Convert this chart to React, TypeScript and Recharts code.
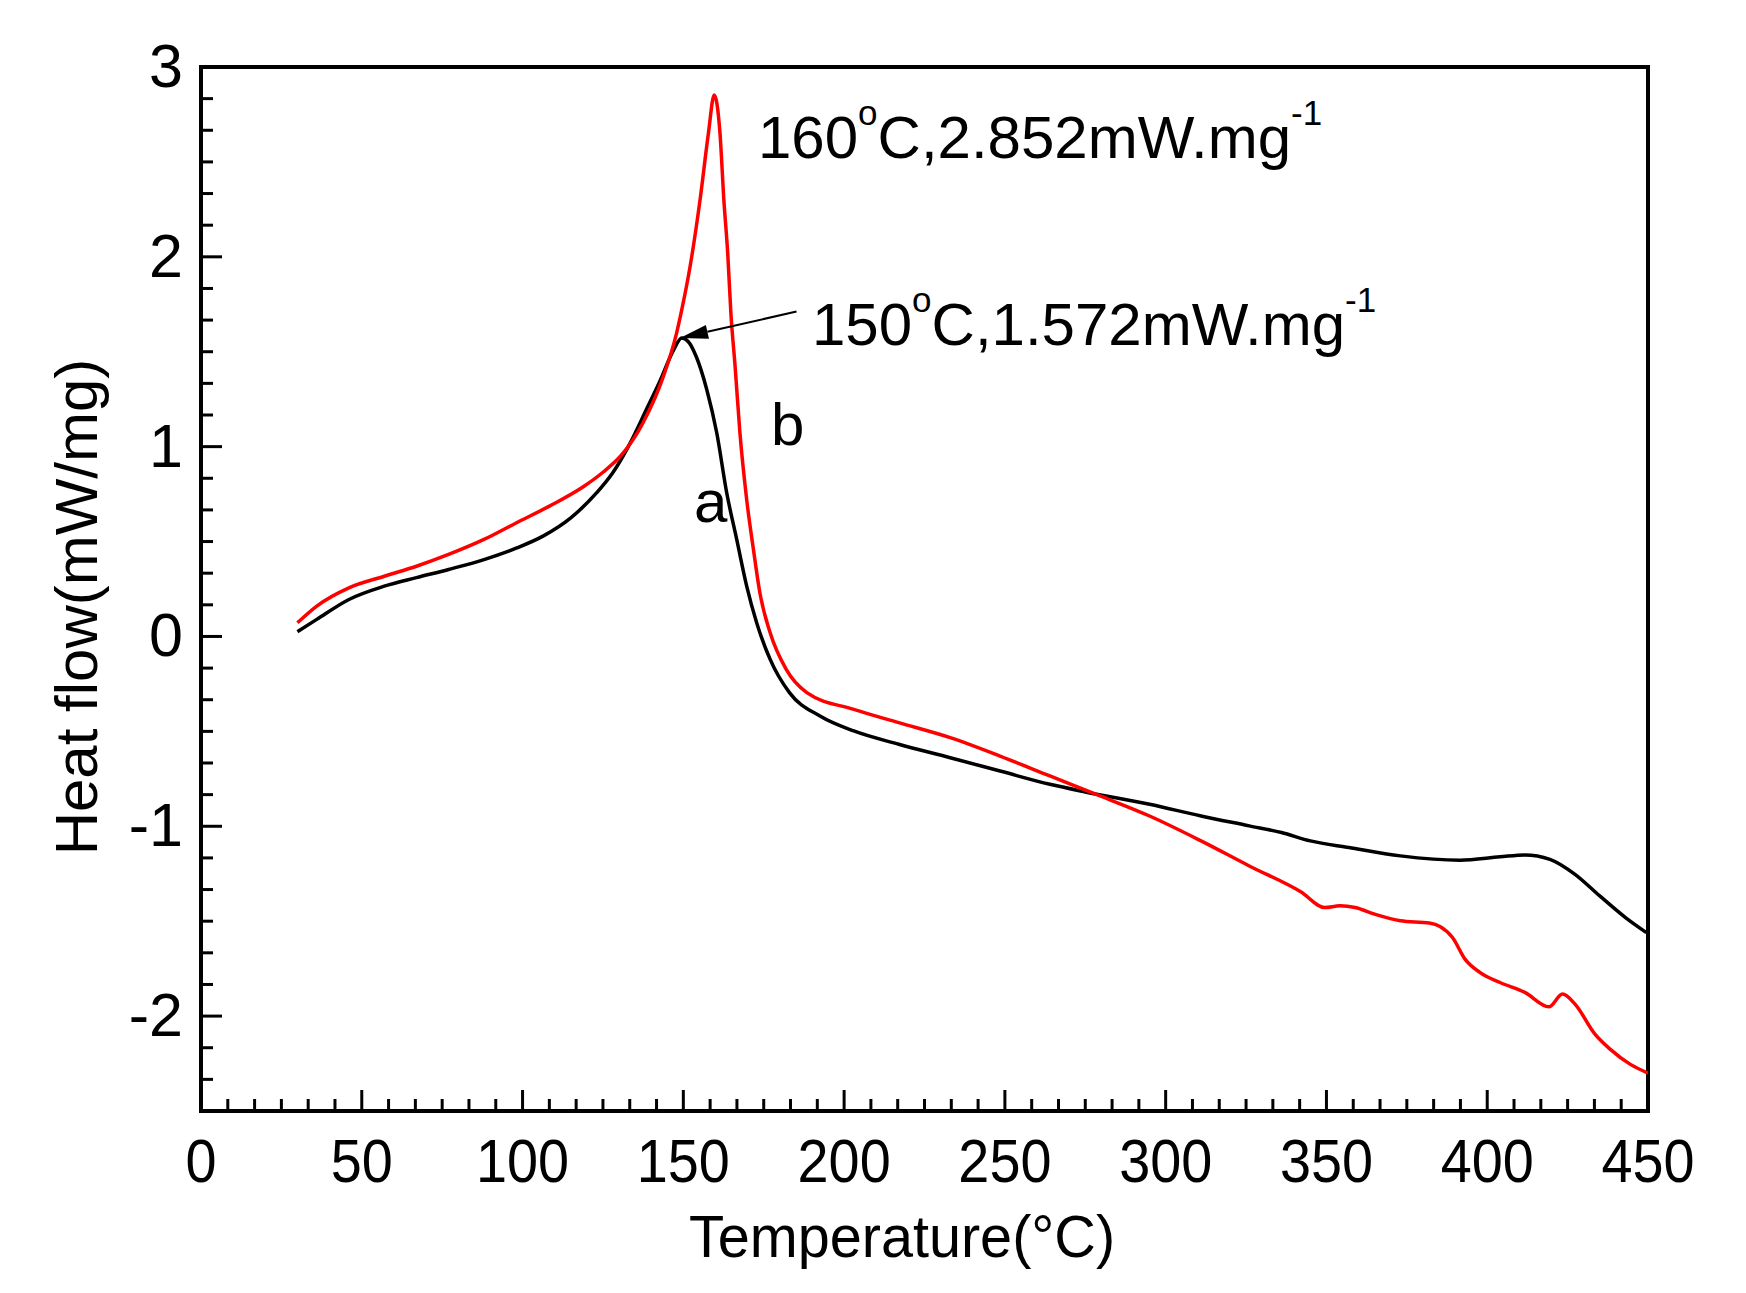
import React from "react";
import {
  LineChart,
  Line,
  XAxis,
  YAxis,
  ReferenceArea,
  ReferenceLine,
  Customized,
} from "recharts";

const FONT = "'Liberation Sans', Arial, Helvetica, sans-serif";

// curve a (black)
const aTemp = [
  30, 36, 46, 57, 67, 77, 88, 98, 106.5, 115, 123, 128, 133.5, 138.5, 142.7,
  147, 149.5, 151.5, 154, 157.3, 160.4, 163.5, 166.6, 169.7, 172.8, 177, 183,
  192.5, 203, 217, 233, 248.5, 264, 275, 295, 311, 326, 336, 345, 357, 373,
  391.5, 404, 411.7, 419.5, 427.3, 435, 443, 449.5,
];
const aHeat = [
  0.025, 0.09, 0.195, 0.265, 0.31, 0.353, 0.405, 0.465, 0.53, 0.625, 0.756,
  0.861, 1.02, 1.195, 1.345, 1.51, 1.572, 1.554, 1.475, 1.3, 1.072, 0.756,
  0.511, 0.265, 0.072, -0.121, -0.296, -0.419, -0.498, -0.568, -0.639, -0.709,
  -0.779, -0.819, -0.884, -0.946, -0.998, -1.033, -1.077, -1.112, -1.156,
  -1.179, -1.161, -1.151, -1.174, -1.253, -1.367, -1.481, -1.56,
];

// curve b (red)
const bTemp = [
  30, 36, 46, 57, 67, 77, 88, 98, 108.5, 119, 125, 131, 137.6, 143.8, 147.9,
  149.5, 152.1, 155.2, 157.8, 159.6, 161.4, 162.6, 163.8, 164.8, 166.1, 167.6,
  169.7, 171.8, 173.8, 177, 182, 188.4, 203, 217, 233, 248.5, 264, 279.6, 295,
  311, 326, 342, 349.5, 354.2, 358.9, 365, 373, 382, 385.3, 389.2, 393.1,
  397.7, 404, 411.7, 419.2, 423.4, 427.3, 433.5, 438.2, 444.4, 450,
];
const bHeat = [
  0.072, 0.16, 0.256, 0.317, 0.37, 0.432, 0.511, 0.598, 0.688, 0.79, 0.865,
  0.96, 1.13, 1.37, 1.598, 1.72, 1.949, 2.3, 2.651, 2.852, 2.651, 2.3, 2.019,
  1.7, 1.423, 1.072, 0.721, 0.458, 0.23, 0.019, -0.174, -0.296, -0.384,
  -0.454, -0.533, -0.63, -0.735, -0.84, -0.946, -1.077, -1.209, -1.345,
  -1.428, -1.419, -1.428, -1.463, -1.498, -1.51, -1.528, -1.586, -1.7, -1.77,
  -1.823, -1.875, -1.951, -1.884, -1.937, -2.095, -2.174, -2.253, -2.3,
];

const xMajor = [0, 50, 100, 150, 200, 250, 300, 350, 400, 450];
const yMajor = [-2, -1, 0, 1, 2, 3];
const xDomain: [number, number] = [0, 450];
const yDomain: [number, number] = [-2.5, 3];
const MINOR_DIV = 6;

// peak marker of curve a: arrow from label to peak
const arrowTail = { x: 185.2, y: 1.712 };
const arrowTip = { x: 149, y: 1.572 };

const aData = aTemp.map((t, i) => ({ t, h: aHeat[i] }));
const bData = bTemp.map((t, i) => ({ t, h: bHeat[i] }));

function withMinor(majors: number[], lo: number, hi: number) {
  const step = (majors[1] - majors[0]) / MINOR_DIV;
  const n = Math.round((hi - lo) / step);
  const out: number[] = [];
  for (let i = 0; i <= n; i++) out.push(+(lo + i * step).toFixed(6));
  return out;
}

const isMajor = (v: number, majors: number[]) =>
  majors.some((m) => Math.abs(m - v) < 1e-6);

const xTicks = withMinor(xMajor, xDomain[0], xDomain[1]);
const yTicks = withMinor(yMajor, yDomain[0], yDomain[1]);

const XTick = (props: any) => {
  const { x, y, payload } = props;
  const major = isMajor(payload.value, xMajor);
  return (
    <g>
      <line x1={x} x2={x} y1={y} y2={y - (major ? 21 : 12)} stroke="#000" strokeWidth={3} />
      {major && (
        <text
          transform={`translate(${x},${y + 71}) scale(0.9,1)`}
          textAnchor="middle"
          fontSize={62}
          fontFamily={FONT}
          fill="#000"
        >
          {Math.round(payload.value)}
        </text>
      )}
    </g>
  );
};

const YTick = (props: any) => {
  const { x, y, payload } = props;
  const major = isMajor(payload.value, yMajor);
  return (
    <g>
      <line x1={x} x2={x + (major ? 21 : 12)} y1={y} y2={y} stroke="#000" strokeWidth={3} />
      {major && (
        <text x={x - 18} y={y + 20} textAnchor="end" fontSize={61} fontFamily={FONT} fill="#000">
          {Math.round(payload.value)}
        </text>
      )}
    </g>
  );
};

const Arrow = (props: any) => {
  const { x1, y1, x2, y2 } = props;
  const dx = x2 - x1;
  const dy = y2 - y1;
  const len = Math.hypot(dx, dy) || 1;
  const ux = dx / len;
  const uy = dy / len;
  const hl = 28;
  const hw = 7;
  const bx = x2 - ux * hl;
  const by = y2 - uy * hl;
  const px = -uy * hw;
  const py = ux * hw;
  return (
    <g>
      <line x1={x1} y1={y1} x2={bx} y2={by} stroke="#000" strokeWidth={2} />
      <polygon
        points={`${x2},${y2} ${bx + px},${by + py} ${bx - px},${by - py}`}
        fill="#000"
      />
    </g>
  );
};

const Annotations = () => (
  <g fontFamily={FONT} fill="#000">
    <text x={750} y={150} fontSize={60}>
      160
      <tspan dy={-33} fontSize={35}>o</tspan>
      <tspan dy={33}>C,2.852mW.mg</tspan>
      <tspan dy={-33} fontSize={35}>-1</tspan>
    </text>
    <text x={804} y={337} fontSize={60}>
      150
      <tspan dy={-33} fontSize={35}>o</tspan>
      <tspan dy={33}>C,1.572mW.mg</tspan>
      <tspan dy={-33} fontSize={35}>-1</tspan>
    </text>
    <text x={763} y={437} fontSize={60}>b</text>
    <text x={686} y={514} fontSize={60}>a</text>
    <text transform="translate(894,1249) scale(0.96,1)" textAnchor="middle" fontSize={60}>
      Temperature(°C)
    </text>
    <text transform="translate(89,599) rotate(-90)" textAnchor="middle" fontSize={60}>
      Heat flow(mW/mg)
    </text>
  </g>
);

export default function App() {
  return (
    <div style={{ width: 1720, height: 1270, background: "#fff" }}>
      <LineChart
        width={1720}
        height={1270}
        margin={{ top: 59, right: 80, left: 0, bottom: 0 }}
      >
        <XAxis
          type="number"
          dataKey="t"
          domain={xDomain}
          ticks={xTicks}
          interval={0}
          allowDataOverflow
          tick={(p: any) => <XTick {...p} />}
          tickLine={false}
          axisLine={false}
          tickSize={0}
          tickMargin={0}
          height={167}
        />
        <YAxis
          type="number"
          domain={yDomain}
          ticks={yTicks}
          interval={0}
          allowDataOverflow
          tick={(p: any) => <YTick {...p} />}
          tickLine={false}
          axisLine={false}
          tickSize={0}
          tickMargin={0}
          width={193}
        />
        <ReferenceArea
          x1={xDomain[0]}
          x2={xDomain[1]}
          y1={yDomain[0]}
          y2={yDomain[1]}
          fill="none"
          stroke="#000"
          strokeWidth={4}
          ifOverflow="visible"
        />
        <Line
          data={aData}
          dataKey="h"
          type="monotone"
          stroke="#000000"
          strokeWidth={3.5}
          dot={false}
          activeDot={false}
          isAnimationActive={false}
        />
        <Line
          data={bData}
          dataKey="h"
          type="monotone"
          stroke="#ff0000"
          strokeWidth={3.5}
          dot={false}
          activeDot={false}
          isAnimationActive={false}
        />
        <ReferenceLine
          segment={[arrowTail, arrowTip]}
          ifOverflow="visible"
          shape={(p: any) => <Arrow {...p} />}
        />
        <Customized component={() => <Annotations />} />
      </LineChart>
    </div>
  );
}
